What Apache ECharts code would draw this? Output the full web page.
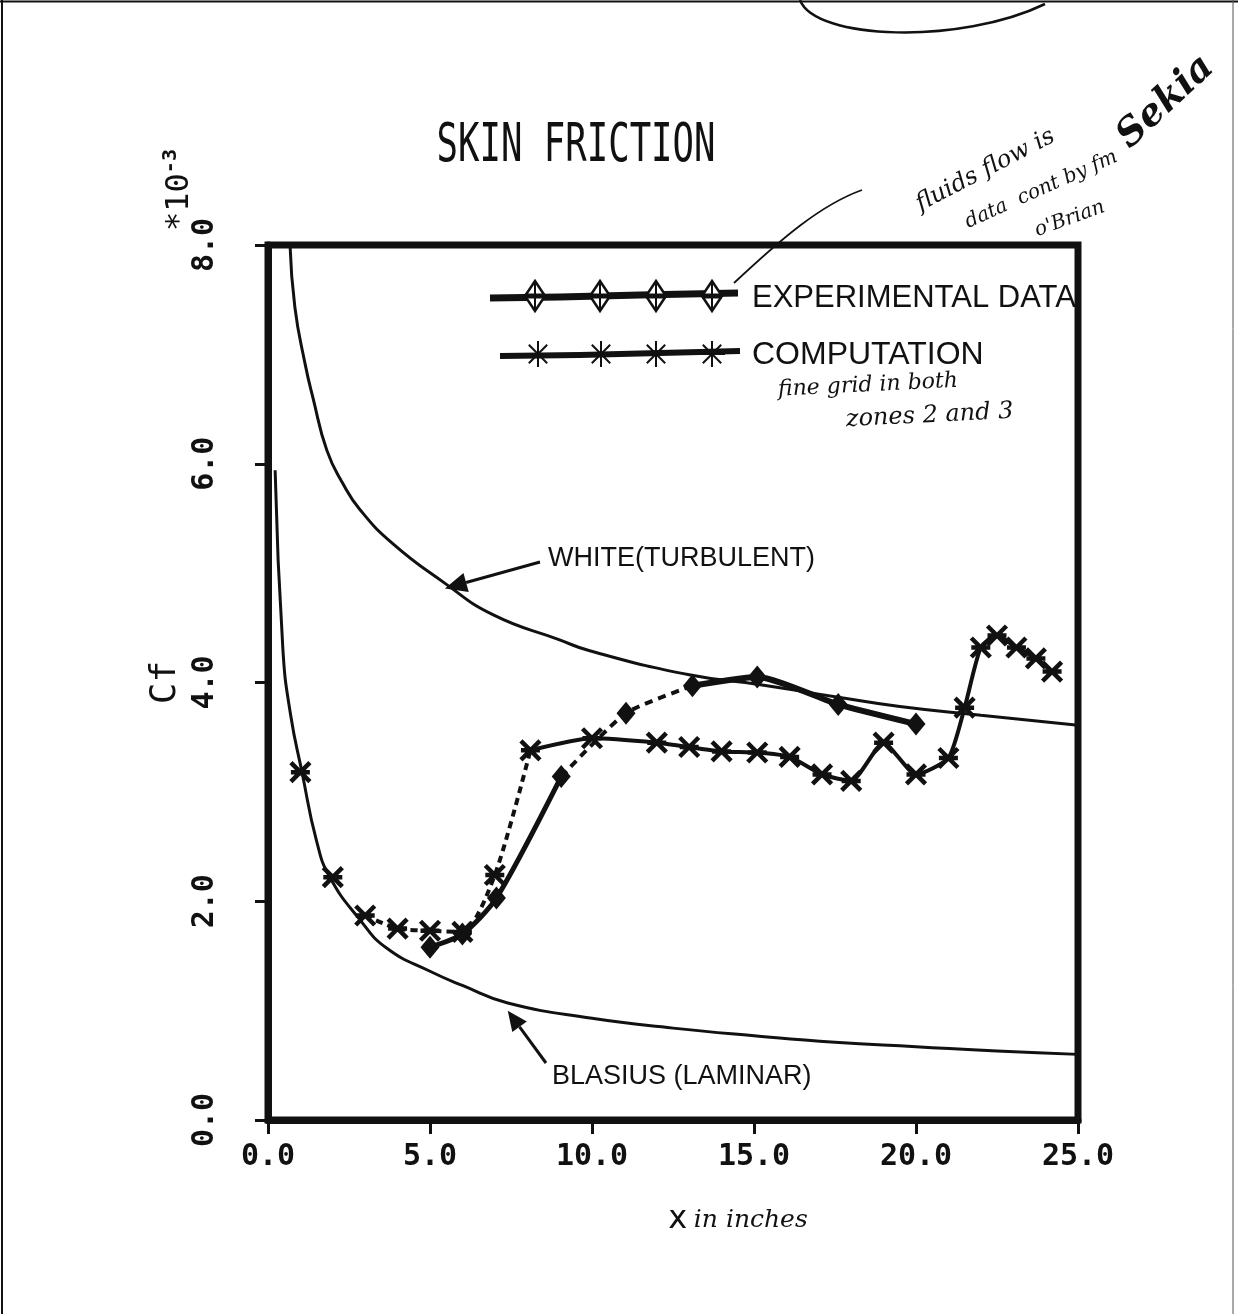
<!DOCTYPE html>
<html>
<head>
<meta charset="utf-8">
<script src="https://cdn.jsdelivr.net/npm/echarts@6/dist/echarts.min.js"></script>
<style>
  html, body { margin: 0; padding: 0; background: #fff; }
  #chart { width: 1238px; height: 1314px; }
</style>
</head>
<body>
<div id="chart"></div>
<script>
// Skin-friction coefficient Cf (x10^-3) along the plate, x in inches.

const xTickLabels = ['0.0', '5.0', '10.0', '15.0', '20.0', '25.0'];
const yTickLabels = ['0.0', '2.0', '4.0', '6.0', '8.0'];

// White's turbulent skin-friction curve
const whiteX  = [0.68, 0.83, 1.14, 1.39, 1.82, 2.31, 2.84, 3.85, 5.4, 6.94, 9.0, 9.93, 13.0, 15.2, 17.5, 19.5, 22.0, 25.0];
const whiteCf = [8.0, 7.43, 6.92, 6.6, 6.12, 5.82, 5.58, 5.27, 4.92, 4.62, 4.39, 4.29, 4.07, 3.98, 3.87, 3.78, 3.70, 3.61];

// Blasius laminar skin-friction curve
const blasiusX  = [0.22, 0.46, 0.7, 1.05, 1.5, 1.91, 2.84, 3.67, 5.0, 6.0, 7.4, 10.0, 12.5, 15.0, 17.5, 20.0, 22.5, 25.0];
const blasiusCf = [5.94, 4.3, 3.7, 3.18, 2.55, 2.22, 1.83, 1.57, 1.36, 1.23, 1.07, 0.93, 0.84, 0.77, 0.71, 0.67, 0.63, 0.60];

// Computation (fine grid in zones 2 and 3)
const compX  = [1.0, 2.0, 3.0, 4.0, 5.0, 6.0, 7.0, 8.1, 10.0, 12.0, 13.0, 14.0, 15.1, 16.1, 17.1, 18.0, 19.0, 20.0, 21.0, 21.5, 22.0, 22.5, 23.1, 23.7, 24.2];
const compCf = [3.18, 2.22, 1.87, 1.75, 1.73, 1.72, 2.24, 3.38, 3.49, 3.45, 3.41, 3.37, 3.36, 3.32, 3.16, 3.10, 3.45, 3.16, 3.31, 3.77, 4.32, 4.43, 4.32, 4.22, 4.10];

// Experimental data
const expX  = [5.0, 6.0, 7.05, 9.05, 11.05, 13.1, 15.1, 17.6, 20.0];
const expCf = [1.58, 1.70, 2.03, 3.14, 3.72, 3.97, 4.05, 3.80, 3.62];

const INK = '#111';
const pairs = (xs, ys, a, b) => xs.slice(a, b).map((x, i) => [x, ys[a + i]]);

const chart = echarts.init(document.getElementById('chart'), null, { renderer: 'canvas' });

const curve = (name, data, width, type, extra) => Object.assign({
  name, type: 'line', data, symbol: 'none', silent: true,
  lineStyle: { color: INK, width, type: type || 'solid' },
  z: 3
}, extra || {});

const asterisk = 'path://M0 0L20 20M20 0L0 20M0 10L20 10';

const option = {
  backgroundColor: '#fff',
  animation: false,
  grid: { left: 268, right: 160, top: 245, bottom: 194, show: true, borderColor: INK, borderWidth: 7, backgroundColor: 'transparent' },
  xAxis: {
    type: 'value', min: 0, max: 25, interval: 5,
    axisLine: { show: true, onZero: false, lineStyle: { color: INK, width: 7 } },
    axisTick: { show: true, inside: false, length: 14, lineStyle: { color: INK, width: 3 } },
    splitLine: { show: false },
    axisLabel: {
      margin: 22, color: INK, fontFamily: 'DejaVu Sans Mono', fontWeight: 'bold', fontSize: 30,
      formatter: v => xTickLabels[Math.round(v / 5)]
    },
    name: '{x|x}  {t|in inches}',
    nameLocation: 'middle', nameGap: 84,
    nameTextStyle: {
      padding: [0, 0, 0, 130],
      rich: {
        x: { fontFamily: 'DejaVu Sans', fontSize: 32, color: INK },
        t: { fontFamily: 'DejaVu Serif', fontStyle: 'italic', fontSize: 25, color: INK }
      }
    }
  },
  yAxis: {
    type: 'value', min: 0, max: 8, interval: 2,
    axisLine: { show: true, onZero: false, lineStyle: { color: INK, width: 7 } },
    axisTick: { show: true, inside: false, length: 13, lineStyle: { color: INK, width: 3 } },
    splitLine: { show: false },
    axisLabel: {
      margin: 48, rotate: 90, color: INK, fontFamily: 'DejaVu Sans Mono', fontWeight: 'bold', fontSize: 30,
      formatter: v => yTickLabels[Math.round(v / 2)]
    },
    name: 'Cf', nameLocation: 'middle', nameGap: 84, nameRotate: 90, nameMoveOverlap: false,
    nameTextStyle: { fontFamily: 'DejaVu Sans Mono', fontSize: 36, color: INK }
  },
  series: [
    curve('WHITE(TURBULENT)', pairs(whiteX, whiteCf, 0, whiteX.length), 3, 'solid', { smooth: 0.5 }),
    curve('BLASIUS (LAMINAR)', pairs(blasiusX, blasiusCf, 0, blasiusX.length), 3, 'solid', { smooth: 0.5 }),
    // computation: dashed through the transition, solid downstream
    curve('COMPUTATION', pairs(compX, compCf, 2, 8), 4, [7, 5], { smooth: 0.25 }),
    curve('COMPUTATION', pairs(compX, compCf, 7, compX.length), 4, 'solid', { smooth: 0.2 }),
    {
      name: 'COMPUTATION', type: 'scatter', data: pairs(compX, compCf, 0, compX.length),
      symbol: asterisk, symbolSize: 19,
      itemStyle: { color: INK, borderColor: INK, borderWidth: 4.5, opacity: 1 }, z: 5, silent: true
    },
    // experiment: solid, dashed across the rise, solid along the turbulent branch
    curve('EXPERIMENTAL DATA', pairs(expX, expCf, 0, 4), 5, 'solid', { smooth: 0.25 }),
    curve('EXPERIMENTAL DATA', pairs(expX, expCf, 3, 6), 4, [8, 6], { smooth: 0.2 }),
    curve('EXPERIMENTAL DATA', pairs(expX, expCf, 5, expX.length), 6, 'solid', { smooth: 0.2 }),
    {
      name: 'EXPERIMENTAL DATA', type: 'scatter', data: pairs(expX, expCf, 0, expX.length),
      symbol: 'diamond', symbolSize: [19, 23],
      itemStyle: { color: INK, opacity: 1 }, z: 5, silent: true
    }
  ]
};
chart.setOption(option);

// ---- annotations, legend samples and notes ----
const px = (x, y) => chart.convertToPixel({ gridIndex: 0 }, [x, y]);

function arrow(from, tip, head) {
  const dx = tip[0] - from[0], dy = tip[1] - from[1];
  const len = Math.hypot(dx, dy), ux = dx / len, uy = dy / len;
  const bx = tip[0] - ux * head, by = tip[1] - uy * head;
  const nx = -uy * head * 0.45, ny = ux * head * 0.45;
  return [
    { type: 'line', shape: { x1: from[0], y1: from[1], x2: bx, y2: by }, style: { stroke: INK, lineWidth: 3 } },
    { type: 'polygon', shape: { points: [[tip[0], tip[1]], [bx + nx, by + ny], [bx - nx, by - ny]] }, style: { fill: INK } }
  ];
}

function diamondMark(cx, cy) {
  return [
    { type: 'polygon', shape: { points: [[cx, cy - 15], [cx + 10, cy], [cx, cy + 15], [cx - 10, cy]] }, style: { fill: '#fff', stroke: INK, lineWidth: 2.5 } },
    { type: 'line', shape: { x1: cx, y1: cy - 15, x2: cx, y2: cy + 15 }, style: { stroke: INK, lineWidth: 2 } },
    { type: 'line', shape: { x1: cx - 10, y1: cy, x2: cx + 10, y2: cy }, style: { stroke: INK, lineWidth: 5 } }
  ];
}

function starMark(cx, cy) {
  const out = [];
  for (let k = 0; k < 4; k++) {
    const a = k * Math.PI / 4, r = 13;
    out.push({ type: 'line', shape: { x1: cx - r * Math.cos(a), y1: cy - r * Math.sin(a), x2: cx + r * Math.cos(a), y2: cy + r * Math.sin(a) }, style: { stroke: INK, lineWidth: 2 } });
  }
  return out;
}

const whiteTip = px(5.46, 4.86);
const blasiusTip = px(7.4, 1.0);

const g = [];
// page frame
g.push({ type: 'line', shape: { x1: 0, y1: 1.5, x2: 1238, y2: 1.5 }, style: { stroke: INK, lineWidth: 2 } });
g.push({ type: 'line', shape: { x1: 2, y1: 0, x2: 2, y2: 1314 }, style: { stroke: INK, lineWidth: 2 } });
g.push({ type: 'line', shape: { x1: 1233, y1: 0, x2: 1233, y2: 1314 }, style: { stroke: '#555', lineWidth: 1 } });
// pen stroke along the top
g.push({ type: 'bezierCurve', shape: { x1: 800, y1: 0, cpx1: 815, cpy1: 40, cpx2: 960, cpy2: 45, x2: 1045, y2: 4 }, style: { stroke: INK, lineWidth: 2.5, fill: null } });

// title
g.push({ type: 'text', x: 576, y: 147, scaleX: 0.66, style: { text: 'SKIN FRICTION', fill: INK, font: '54px "DejaVu Sans Mono"', textAlign: 'center', textVerticalAlign: 'middle' } });

// axis multiplier
g.push({ type: 'text', x: 180, y: 190, rotation: Math.PI / 2, style: {
  text: '{a|*10}{b|-3}', textAlign: 'center', textVerticalAlign: 'middle',
  rich: { a: { fontFamily: 'DejaVu Sans Mono', fontSize: 32, fill: INK, color: INK }, b: { fontFamily: 'DejaVu Sans Mono', fontWeight: 'bold', fontSize: 20, fill: INK, color: INK, verticalAlign: 'top', padding: [0, 0, 18, 0] } }
} });

// legend samples
g.push({ type: 'polyline', shape: { points: [[490, 298], [560, 297], [640, 295], [738, 293]] }, style: { stroke: INK, lineWidth: 7 } });
[535, 600, 656, 712].forEach(cx => g.push(...diamondMark(cx, 296)));
g.push({ type: 'text', x: 752, y: 298, style: { text: 'EXPERIMENTAL DATA', fill: INK, font: '31px "Liberation Sans"', textVerticalAlign: 'middle' } });

g.push({ type: 'polyline', shape: { points: [[500, 356], [580, 355], [660, 353], [740, 351]] }, style: { stroke: INK, lineWidth: 6 } });
[538, 601, 656, 712].forEach(cx => g.push(...starMark(cx, 354)));
g.push({ type: 'text', x: 752, y: 355, style: { text: 'COMPUTATION', fill: INK, font: '32px "Liberation Sans"', textVerticalAlign: 'middle' } });
g.push({ type: 'text', x: 778, y: 390, rotation: 0.05, style: { text: 'fine grid in both', fill: INK, font: 'italic 22px "DejaVu Serif"', textVerticalAlign: 'middle' } });
g.push({ type: 'text', x: 846, y: 420, rotation: 0.05, style: { text: 'zones 2 and 3', fill: INK, font: 'italic 24px "DejaVu Serif"', textVerticalAlign: 'middle' } });

// pointer from legend to the note above
g.push({ type: 'bezierCurve', shape: { x1: 734, y1: 283, cpx1: 780, cpy1: 240, cpx2: 820, cpy2: 205, x2: 862, y2: 190 }, style: { stroke: INK, lineWidth: 1.8, fill: null } });

// handwritten note, upper right
g.push({ type: 'text', x: 912, y: 195, rotation: 0.48, style: { text: 'fluids flow is', fill: INK, font: 'italic 24px "DejaVu Serif"' } });
g.push({ type: 'text', x: 1110, y: 128, rotation: 0.75, style: { text: 'Sekia', fill: INK, font: 'italic bold 38px "DejaVu Serif"' } });
g.push({ type: 'text', x: 962, y: 214, rotation: 0.42, style: { text: 'data  cont by fm', fill: INK, font: 'italic 20px "DejaVu Serif"' } });
g.push({ type: 'text', x: 1032, y: 222, rotation: 0.35, style: { text: "o'Brian", fill: INK, font: 'italic 20px "DejaVu Serif"' } });

// curve labels
g.push({ type: 'text', x: 548, y: 559, style: { text: 'WHITE(TURBULENT)', fill: INK, font: '27px "Liberation Sans"', textVerticalAlign: 'middle' } });
g.push(...arrow([540, 562], whiteTip, 22));
g.push({ type: 'text', x: 552, y: 1077, style: { text: 'BLASIUS (LAMINAR)', fill: INK, font: '27px "Liberation Sans"', textVerticalAlign: 'middle' } });
g.push(...arrow([546, 1063], blasiusTip, 20));

chart.setOption({ graphic: g });
</script>
</body>
</html>
